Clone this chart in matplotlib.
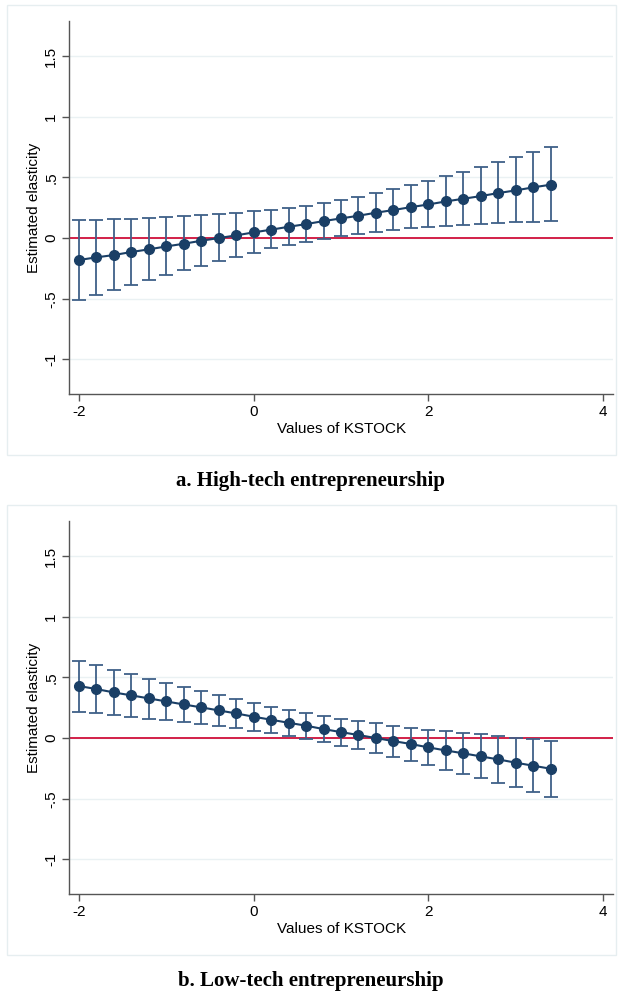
import matplotlib
matplotlib.use('Agg')
from matplotlib import pyplot as plt
from matplotlib.patches import Rectangle

# values of KSTOCK at which the elasticity is evaluated
kstock = [-2.0, -1.8, -1.6, -1.4, -1.2, -1.0, -0.8, -0.6, -0.4, -0.2,
          0.0, 0.2, 0.4, 0.6, 0.8, 1.0, 1.2, 1.4, 1.6, 1.8,
          2.0, 2.2, 2.4, 2.6, 2.8, 3.0, 3.2, 3.4]

# a. high-tech
high_est = [-0.181, -0.159, -0.140, -0.115, -0.093, -0.069, -0.047, -0.022, 0.000, 0.022,
            0.047, 0.069, 0.093, 0.115, 0.140, 0.162, 0.184, 0.209, 0.231, 0.255,
            0.277, 0.302, 0.324, 0.346, 0.371, 0.393, 0.418, 0.440]
high_hi = [0.146, 0.148, 0.154, 0.159, 0.168, 0.173, 0.181, 0.187, 0.198, 0.209,
           0.220, 0.234, 0.250, 0.266, 0.291, 0.313, 0.341, 0.371, 0.404, 0.440,
           0.473, 0.511, 0.547, 0.588, 0.626, 0.668, 0.709, 0.753]
high_lo = [-0.511, -0.467, -0.426, -0.385, -0.343, -0.305, -0.264, -0.228, -0.190, -0.154,
           -0.121, -0.085, -0.058, -0.030, -0.005, 0.016, 0.036, 0.052, 0.069, 0.080,
           0.088, 0.099, 0.107, 0.115, 0.121, 0.129, 0.135, 0.140]

# b. low-tech
low_est = [0.429, 0.404, 0.376, 0.352, 0.327, 0.302, 0.277, 0.253, 0.228, 0.203,
           0.176, 0.151, 0.126, 0.102, 0.074, 0.049, 0.025, 0.000, -0.025, -0.049,
           -0.077, -0.102, -0.126, -0.151, -0.176, -0.203, -0.228, -0.253]
low_hi = [0.637, 0.602, 0.563, 0.527, 0.489, 0.453, 0.418, 0.385, 0.352, 0.319,
          0.288, 0.258, 0.231, 0.206, 0.181, 0.159, 0.140, 0.121, 0.102, 0.085,
          0.069, 0.058, 0.044, 0.030, 0.016, 0.003, -0.011, -0.022]
low_lo = [0.217, 0.203, 0.190, 0.176, 0.159, 0.148, 0.135, 0.118, 0.099, 0.080,
          0.060, 0.041, 0.016, -0.008, -0.036, -0.063, -0.091, -0.124, -0.157, -0.190,
          -0.225, -0.261, -0.297, -0.332, -0.371, -0.407, -0.445, -0.484]

yticks = [-1, -0.5, 0, 0.5, 1, 1.5]
ytick_labels = ['-1', '-.5', '0', '.5', '1', '1.5']
xticks = [-2, 0, 2, 4]
xtick_labels = ['-2', '0', '2', '4']

navy = '#1a3f66'
bar_col = '#3f6088'
red = '#d0103a'

W, H = 621, 993
fig = plt.figure(figsize=(6.21, 9.93), dpi=100)
plt.rcParams['font.family'] = ['Liberation Sans', 'DejaVu Sans']
plt.rcParams['axes.unicode_minus'] = False


def panel(top_px, est, lo, hi, title):
    # light frame around each graph
    fig.patches.append(Rectangle((7 / W, 1 - (top_px + 450) / H), 609 / W, 450 / H,
                                 transform=fig.transFigure, fill=False,
                                 edgecolor='#e6eef0', lw=1.0))
    ax = fig.add_axes([69.3 / W, 1 - (top_px + 389) / H, 544 / W, 373 / H])
    ax.set_xlim(-2.111, 4.118)
    ax.set_ylim(-1.286, 1.79)
    for y in yticks:
        ax.axhline(y, color='#eaf1f3', lw=1.0, zorder=0)
    ax.axhline(0, color=red, lw=1.3, zorder=1)
    err_lo = [e - l for e, l in zip(est, lo)]
    err_hi = [h - e for e, h in zip(est, hi)]
    ax.errorbar(kstock, est, yerr=[err_lo, err_hi], fmt='none', ecolor=bar_col,
                elinewidth=1.3, capsize=5, capthick=1.3, zorder=2)
    ax.plot(kstock, est, color=navy, lw=1.5, marker='o', markersize=7,
            markerfacecolor=navy, markeredgecolor=navy, zorder=3)
    for s in ['top', 'right']:
        ax.spines[s].set_visible(False)
    for s in ['left', 'bottom']:
        ax.spines[s].set_color('#555555')
        ax.spines[s].set_linewidth(1.0)
    ax.set_yticks(yticks)
    ax.set_yticklabels(ytick_labels, rotation=90, va='center')
    ax.set_xticks(xticks)
    ax.set_xticklabels(xtick_labels)
    ax.tick_params(labelsize=11, color='#555555', length=5, width=1.0, pad=3)
    ax.set_xlabel('Values of KSTOCK', fontsize=11, labelpad=2)
    ax.set_ylabel('Estimated elasticity', fontsize=11)
    ax.yaxis.set_label_coords(-0.052, 0.5)
    fig.text(0.5, 1 - (top_px + 476) / H, title, ha='center', va='center',
             fontsize=15, fontweight='bold', family=['Liberation Serif', 'DejaVu Serif'])
    return ax


panel(5, high_est, high_lo, high_hi, 'a. High-tech entrepreneurship')
panel(505, low_est, low_lo, low_hi, 'b. Low-tech entrepreneurship')

plt.savefig('out.png', dpi=100)
